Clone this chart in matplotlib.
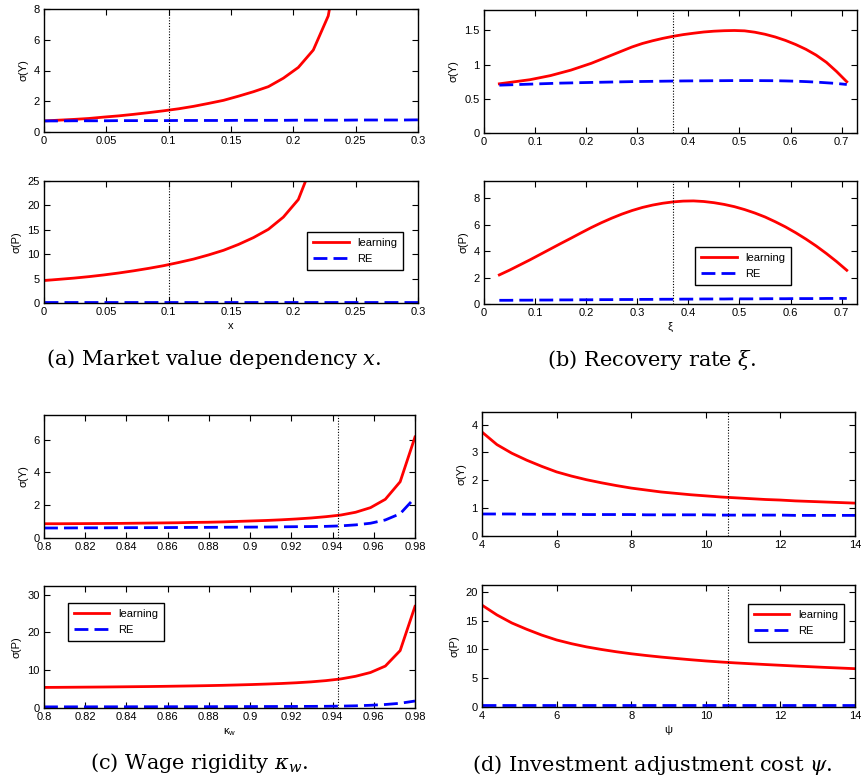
import matplotlib

matplotlib.use("Agg")
import matplotlib.pyplot as plt
import numpy as np
from matplotlib.ticker import FormatStrFormatter

# (a) market value dependency x
x_a = np.round(np.arange(0, 26) * 0.012, 4)
a_learn_y = [0.72, 0.77, 0.82, 0.88, 0.97, 1.05, 1.15, 1.26, 1.38, 1.51, 1.67,
             1.86, 2.06, 2.33, 2.62, 2.95, 3.50, 4.20, 5.33, 7.55, 13.0]
a_re_y = [0.72, 0.72, 0.73, 0.73, 0.73, 0.74, 0.74, 0.74, 0.74, 0.75, 0.75, 0.75, 0.75,
          0.76, 0.76, 0.76, 0.76, 0.77, 0.77, 0.77, 0.77, 0.78, 0.78, 0.78, 0.78, 0.79]
a_learn_p = [4.60, 4.85, 5.10, 5.40, 5.75, 6.15, 6.60, 7.10, 7.65, 8.30, 9.00,
             9.85, 10.8, 12.0, 13.4, 15.1, 17.6, 21.2, 29.0]
a_re_p = [0.30] * 26

# (b) recovery rate xi
x_b = np.round(np.arange(0.03, 0.7101, 0.02), 3)
b_learn_y = [0.72, 0.74, 0.76, 0.78, 0.81, 0.84, 0.88, 0.92, 0.97, 1.02, 1.08, 1.14,
             1.20, 1.26, 1.31, 1.35, 1.385, 1.415, 1.44, 1.46, 1.478, 1.49, 1.497, 1.50,
             1.495, 1.475, 1.445, 1.405, 1.355, 1.295, 1.225, 1.14, 1.035, 0.90, 0.75]
b_re_y = [0.700, 0.705, 0.710, 0.715, 0.720, 0.725, 0.730, 0.733, 0.737, 0.740, 0.743,
          0.746, 0.749, 0.752, 0.754, 0.756, 0.758, 0.760, 0.762, 0.763, 0.764, 0.765,
          0.766, 0.767, 0.767, 0.767, 0.766, 0.765, 0.762, 0.758, 0.752, 0.745, 0.735,
          0.725, 0.710]
b_learn_p = [2.20, 2.56, 2.95, 3.34, 3.75, 4.16, 4.57, 4.97, 5.38, 5.78, 6.15, 6.49,
             6.80, 7.07, 7.30, 7.48, 7.62, 7.72, 7.78, 7.795, 7.75, 7.66, 7.53, 7.36,
             7.14, 6.88, 6.58, 6.22, 5.83, 5.39, 4.91, 4.39, 3.82, 3.21, 2.55]
b_re_p = [0.28, 0.28, 0.29, 0.29, 0.30, 0.30, 0.31, 0.31, 0.32, 0.32, 0.33, 0.33,
          0.34, 0.34, 0.35, 0.35, 0.36, 0.36, 0.37, 0.37, 0.38, 0.38, 0.38, 0.39,
          0.39, 0.39, 0.40, 0.40, 0.40, 0.41, 0.41, 0.41, 0.42, 0.42, 0.42]

# (c) wage rigidity kappa_w
x_c = np.round(0.8 + np.arange(0, 26) * 0.0072, 4)
c_learn_y = [0.87, 0.87, 0.875, 0.88, 0.885, 0.89, 0.90, 0.91, 0.92, 0.93, 0.95, 0.96,
             0.98, 1.01, 1.04, 1.07, 1.11, 1.16, 1.22, 1.30, 1.40, 1.57, 1.85, 2.36,
             3.43, 6.16]
c_re_y = [0.61, 0.61, 0.615, 0.62, 0.62, 0.625, 0.63, 0.63, 0.635, 0.64, 0.645, 0.65,
          0.655, 0.66, 0.665, 0.67, 0.68, 0.69, 0.70, 0.71, 0.74, 0.80, 0.90, 1.10,
          1.48, 2.46]
c_learn_p = [5.45, 5.47, 5.50, 5.53, 5.56, 5.60, 5.64, 5.68, 5.73, 5.79, 5.85, 5.92,
             6.00, 6.10, 6.21, 6.34, 6.49, 6.68, 6.92, 7.25, 7.70, 8.40, 9.40, 11.1,
             15.2, 26.9]
c_re_p = [0.30, 0.30, 0.31, 0.31, 0.32, 0.32, 0.33, 0.33, 0.34, 0.34, 0.35, 0.35,
          0.36, 0.37, 0.38, 0.39, 0.40, 0.41, 0.43, 0.45, 0.50, 0.58, 0.72, 0.93,
          1.25, 1.85]

# (d) investment adjustment cost psi
x_d = np.round(4 + np.arange(0, 26) * 0.4, 2)
d_learn_y = [3.73, 3.28, 2.97, 2.72, 2.50, 2.30, 2.15, 2.02, 1.91, 1.81, 1.72, 1.65,
             1.58, 1.53, 1.48, 1.44, 1.40, 1.37, 1.34, 1.31, 1.29, 1.26, 1.24, 1.22,
             1.20, 1.18]
d_re_y = [0.79, 0.79, 0.79, 0.78, 0.78, 0.78, 0.78, 0.77, 0.77, 0.77, 0.77, 0.76,
          0.76, 0.76, 0.76, 0.76, 0.75, 0.75, 0.75, 0.75, 0.75, 0.74, 0.74, 0.74,
          0.74, 0.74]
d_learn_p = [17.7, 16.0, 14.6, 13.5, 12.5, 11.65, 11.0, 10.45, 10.0, 9.60, 9.25, 8.95,
             8.68, 8.44, 8.21, 8.00, 7.82, 7.66, 7.52, 7.38, 7.25, 7.12, 7.00, 6.88,
             6.77, 6.66]
d_re_p = [0.30] * 26

calibrated = {"a": 0.1, "b": 0.37, "c": 0.9426, "d": 10.6}
captions = {
    "a": r"(a) Market value dependency $x$.",
    "b": r"(b) Recovery rate $\xi$.",
    "c": r"(c) Wage rigidity $\kappa_w$.",
    "d": r"(d) Investment adjustment cost $\psi$.",
}
xlabels = {"a": "x", "b": "ξ", "c": r"κ$_{\mathregular{w}}$", "d": "ψ"}

W, H = 862, 783
plt.rcParams["font.family"] = ["Liberation Sans", "DejaVu Sans"]
fig = plt.figure(figsize=(W / 100, H / 100), dpi=100)


def add_axes(left, right, top, bottom):
    return fig.add_axes([left / W, 1 - bottom / H, (right - left) / W, (bottom - top) / H])


def style(ax, xlim, ylim, xticks, yticks):
    ax.set_xlim(*xlim)
    ax.set_ylim(*ylim)
    ax.set_xticks(xticks)
    ax.set_yticks(yticks)
    ax.xaxis.set_major_formatter(FormatStrFormatter("%g"))
    ax.yaxis.set_major_formatter(FormatStrFormatter("%g"))
    ax.tick_params(direction="in", top=True, right=True, length=4, width=0.8,
                   labelsize=8, pad=3)
    for s in ax.spines.values():
        s.set_linewidth(1.0)


def draw(ax, x, learn, re, vline):
    ax.plot(x[:len(learn)], learn, color="red", lw=2.0, label="learning")
    ax.plot(x[:len(re)], re, color="blue", lw=2.0, dashes=(5, 2.2), label="RE")
    ax.axvline(vline, color="black", lw=0.8, ls=(0, (1, 1.5)))


def legend(ax, loc, anchor):
    leg = ax.legend(loc=loc, bbox_to_anchor=anchor, borderaxespad=0, fontsize=8,
                    fancybox=False, edgecolor="black", framealpha=1,
                    handlelength=3.2, borderpad=0.5, labelspacing=0.6)
    leg.get_frame().set_linewidth(1.0)


panels = [
    ("a", (44, 418, 9, 132), (44, 418, 181, 303), x_a, a_learn_y, a_re_y, a_learn_p, a_re_p,
     (0, 0.3), np.arange(0, 0.31, 0.05), (0, 8), [0, 2, 4, 6, 8], (0, 25), [0, 5, 10, 15, 20, 25],
     ("upper right", (0.96, 0.582))),
    ("b", (484, 857, 10, 133), (484, 857, 181, 304), x_b, b_learn_y, b_re_y, b_learn_p, b_re_p,
     (0, 0.73), np.arange(0, 0.71, 0.1), (0, 1.8), [0, 0.5, 1, 1.5], (0, 9.3), [0, 2, 4, 6, 8],
     ("upper right", (0.823, 0.463))),
    ("c", (44, 415, 415, 538), (44, 415, 586, 708), x_c, c_learn_y, c_re_y, c_learn_p, c_re_p,
     (0.8, 0.98), np.arange(0.8, 0.981, 0.02), (0, 7.5), [0, 2, 4, 6], (0, 32.3), [0, 10, 20, 30],
     ("upper left", (0.065, 0.861))),
    ("d", (482, 855, 412, 536), (482, 855, 585, 707), x_d, d_learn_y, d_re_y, d_learn_p, d_re_p,
     (4, 14), np.arange(4, 14.1, 2), (0, 4.45), [0, 1, 2, 3, 4], (0, 21.2), [0, 5, 10, 15, 20],
     ("upper right", (0.97, 0.844))),
]

for key, top_box, bot_box, x, ly, ry, lp, rp, xlim, xt, ylim_y, yt_y, ylim_p, yt_p, leg in panels:
    ax1 = add_axes(*top_box)
    draw(ax1, x, ly, ry, calibrated[key])
    style(ax1, xlim, ylim_y, xt, yt_y)
    ax1.set_ylabel("σ(Y)", fontsize=8, labelpad=4)

    ax2 = add_axes(*bot_box)
    draw(ax2, x, lp, rp, calibrated[key])
    style(ax2, xlim, ylim_p, xt, yt_p)
    ax2.set_ylabel("σ(P)", fontsize=8, labelpad=4)
    ax2.set_xlabel(xlabels[key], fontsize=8, labelpad=3)
    legend(ax2, *leg)

caption_pos = {"a": (214, 359), "b": (652, 360), "c": (199, 763), "d": (652, 765)}
for key, (cx, cy) in caption_pos.items():
    fig.text(cx / W, 1 - cy / H, captions[key], ha="center", va="center", fontsize=15,
             family="DejaVu Serif", math_fontfamily="dejavuserif")

fig.savefig("out.png", dpi=100)
